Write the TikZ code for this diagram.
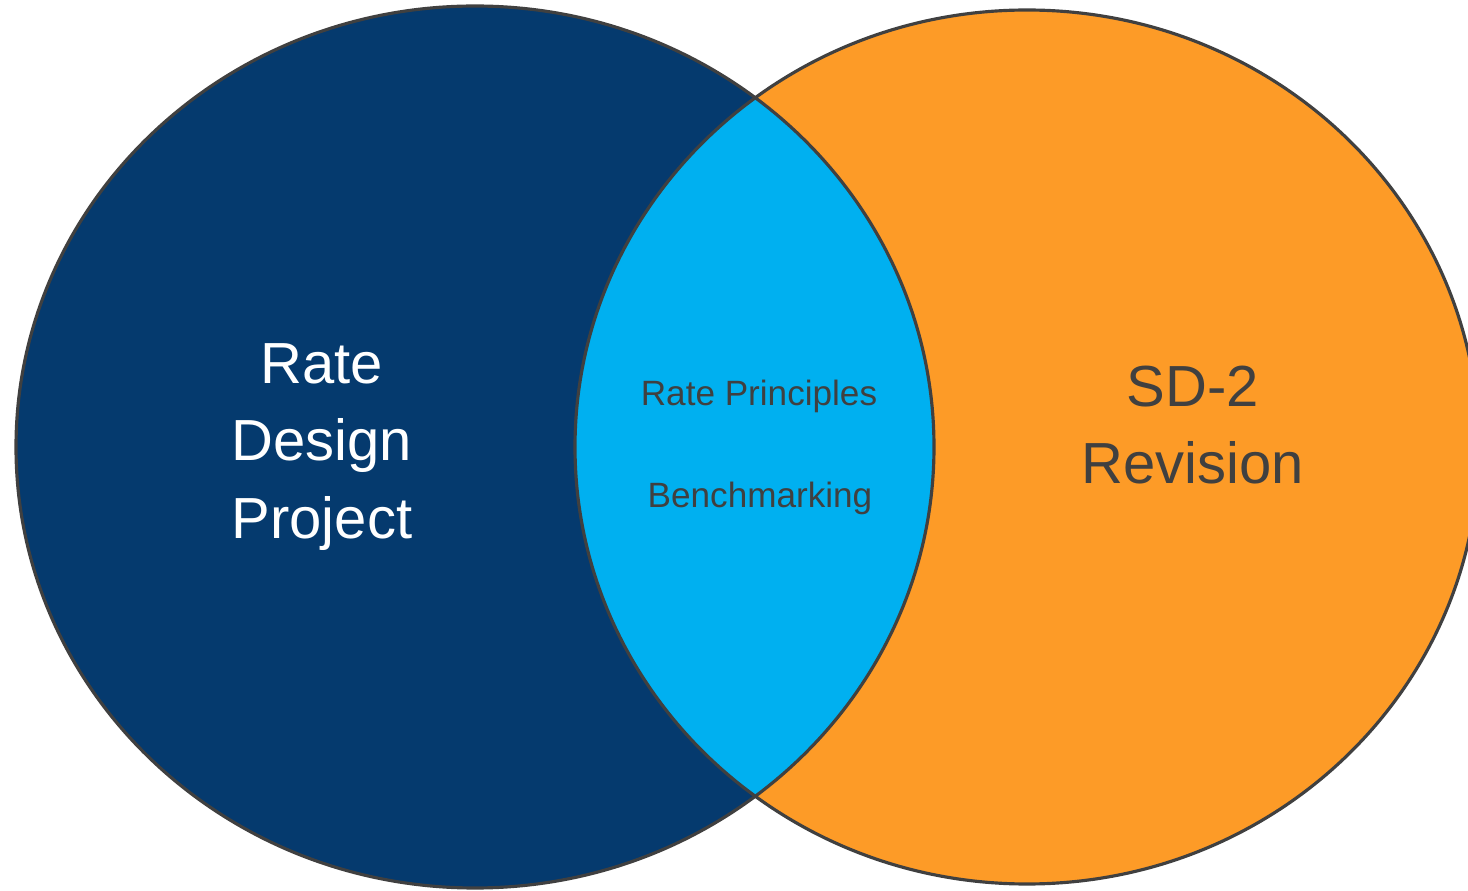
\documentclass[tikz,border=0pt]{standalone}
\usepackage{fontspec}
\setmainfont{Liberation Sans}
\usepackage{xcolor}
\definecolor{rdpblue}{HTML}{053A6E}
\definecolor{sdorange}{HTML}{FD9B27}
\definecolor{lenscyan}{HTML}{00B0F0}
\definecolor{edgegray}{HTML}{404040}
\tikzset{
venn edge/.style={draw=edgegray, line width=1.8pt},
big label/.style={font=\fontsize{33}{44}\selectfont, align=center},
small label/.style={font=\fontsize{20}{24}\selectfont, text=edgegray, anchor=base},
}

\begin{document}
\begin{tikzpicture}[x=0.02cm,y=-0.02cm]
    \useasboundingbox (0,0) rectangle (1468,891);
    % the two sets
    \fill[rdpblue] (475,447) ellipse [x radius=459, y radius=441];
    \fill[sdorange] (1027,447) ellipse [x radius=452, y radius=437];
    % overlap
    \begin{scope}
        \clip (475,447) ellipse [x radius=459, y radius=441];
        \fill[lenscyan] (1027,447) ellipse [x radius=452, y radius=437];
    \end{scope}
    \draw[venn edge] (475,447) ellipse [x radius=459, y radius=441];
    \draw[venn edge] (1027,447) ellipse [x radius=452, y radius=437];
    % labels
    \node[big label, text=white] (rdp) at (322,447) {Rate\\Design\\Project};
    \node[big label, text=edgegray] (sd2) at (1193,425) {SD-2\\Revision};
    \node[small label] (principles) at (759,406) {Rate Principles};
    \node[small label] (bench) at (760,508) {Benchmarking};
\end{tikzpicture}
\end{document}
